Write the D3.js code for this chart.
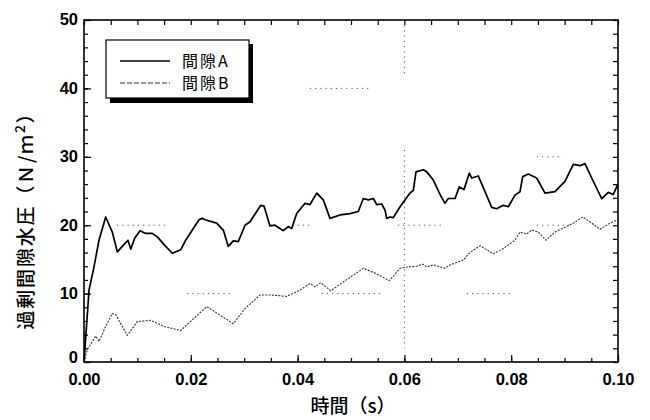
<!DOCTYPE html>
<html><head><meta charset="utf-8">
<script src="https://cdn.jsdelivr.net/npm/d3@7"></script>
<style>
html,body{margin:0;padding:0;background:#fff;}
svg{display:block;}
</style></head>
<body>
<svg id="c" width="650" height="420"></svg>
<script>
// ---- data (time in s, excess pore water pressure in N/m^2) ----
const timeA = [0,0.00094,0.00187,0.00281,0.00406,0.0053,0.00624,0.00717,0.00824,0.00875,0.00949,0.01049,0.01155,0.01279,0.01373,0.0153,0.01654,0.01811,0.01904,0.02028,0.02154,0.02215,0.02266,0.02485,0.02579,0.02609,0.02702,0.02796,0.0289,0.03015,0.03109,0.03234,0.03309,0.03371,0.03483,0.03577,0.03732,0.03826,0.03889,0.03983,0.04139,0.04232,0.04358,0.04481,0.04607,0.04794,0.04981,0.05137,0.0523,0.05324,0.05418,0.05481,0.05575,0.05637,0.05669,0.0573,0.05792,0.05918,0.06011,0.06105,0.06167,0.06217,0.06354,0.06418,0.06541,0.06667,0.0676,0.06822,0.06948,0.07028,0.07116,0.07215,0.0726,0.07384,0.07509,0.07635,0.07728,0.07852,0.07946,0.08071,0.08165,0.08215,0.0832,0.08477,0.08633,0.0882,0.09007,0.09163,0.09288,0.09382,0.09507,0.09695,0.09818,0.09912,0.09976,0.1];
const valueA = [0,10.5,13.9,17.8,21.2,19.0,16.1,16.9,17.8,16.5,18.1,19.2,18.8,18.8,18.3,16.9,15.9,16.4,17.8,19.3,20.8,21.0,20.8,20.3,19.5,19.3,16.9,17.7,17.6,20.0,20.5,22.0,22.9,22.8,19.9,20.0,19.2,19.8,19.5,21.7,23.2,23.0,24.7,23.7,21.0,21.5,21.7,22.0,23.9,23.7,23.9,23.0,23.1,22.2,21.0,21.2,21.1,22.7,23.7,24.7,25.1,27.8,28.1,27.8,26.6,24.5,23.2,23.9,23.9,25.6,25.2,27.6,26.9,27.2,24.9,22.6,22.4,22.9,22.7,24.4,24.9,27.1,27.5,26.9,24.7,24.9,26.4,28.9,28.7,29.0,26.9,23.9,24.8,24.5,25.6,26.0];
const timeB = [0,0.00062,0.00219,0.00281,0.00406,0.0053,0.00594,0.00811,0.00998,0.01249,0.01498,0.01811,0.02298,0.02796,0.03015,0.03296,0.03483,0.03796,0.04045,0.04232,0.04326,0.04433,0.0462,0.04856,0.0523,0.05449,0.05717,0.05918,0.06073,0.0623,0.06343,0.06418,0.06541,0.0676,0.06854,0.07103,0.07228,0.07416,0.07665,0.07852,0.08071,0.08165,0.0829,0.08384,0.08507,0.08652,0.0882,0.09163,0.09339,0.09476,0.09663,0.0985,0.1];
const valueB = [0,1.8,3.8,3.0,5.2,7.1,6.9,3.9,5.9,6.1,5.2,4.6,8.1,5.6,7.8,9.8,9.8,9.6,10.5,11.5,11.0,11.6,10.4,11.7,13.7,13.0,11.9,13.7,13.9,14.0,14.3,13.9,14.2,13.7,14.2,14.9,16.0,17.0,15.8,16.6,17.8,19.0,18.7,19.3,19.0,17.8,19.0,20.3,21.2,20.5,19.4,20.3,20.8];
const seriesNames = ["間隙A", "間隙B"];
const xTicks = [0, 0.02, 0.04, 0.06, 0.08, 0.10];
const yTicks = [0, 10, 20, 30, 40, 50];
// faint dotted grid fragments seen in the scan [x0, x1, y0, y1] in data units
const gridBits = [
  [0.06,0.06,50,42],[0.06,0.06,31,2],
  [0.0062,0.0155,20,20],[0.0400,0.0424,20,20],[0.0588,0.0675,20,20],[0.0848,0.0915,20,20],
  [0.0193,0.0273,10,10],[0.0445,0.0555,10,10],[0.0717,0.0797,10,10],
  [0.0423,0.0535,40,40],[0.0848,0.0897,30,30]
];

// ---- layout ----
const svg = d3.select("#c");
const L = 84, R = 618, T = 20, B = 362;
const x = d3.scaleLinear().domain([0, 0.1]).range([L, R]);
const y = d3.scaleLinear().domain([0, 50]).range([B, T]);
const tickFont = "'Liberation Sans', Arial, sans-serif";
const jpFont = "'Noto Sans CJK JP', 'Noto Sans CJK SC', sans-serif";

// grid fragments
svg.append("g").selectAll("line").data(gridBits).join("line")
  .attr("x1", d => x(d[0])).attr("x2", d => x(d[1]))
  .attr("y1", d => y(d[2])).attr("y2", d => y(d[3]))
  .attr("stroke", "#555").attr("stroke-width", 1).attr("stroke-dasharray", "1.2,4");

// series
const lineA = d3.line().x((d, i) => x(timeA[i])).y(d => y(d)).curve(d3.curveLinear);
const lineB = d3.line().x((d, i) => x(timeB[i])).y(d => y(d)).curve(d3.curveLinear);
svg.append("path").attr("d", lineB(valueB)).attr("fill", "none")
  .attr("stroke", "#333").attr("stroke-width", 1.1).attr("stroke-dasharray", "2,1.3");
svg.append("path").attr("d", lineA(valueA)).attr("fill", "none")
  .attr("stroke", "#000").attr("stroke-width", 1.7).attr("stroke-linejoin", "round");

// axes (ticks inside)
function styleAxis(g) {
  g.select(".domain").remove();
  g.selectAll("line").attr("stroke", "#000").attr("stroke-width", 1.2);
  g.selectAll("text").attr("font-family", tickFont).attr("font-weight", "bold")
    .attr("font-size", 16.5).attr("fill", "#000");
}
const minorX = d3.range(0, 0.1001, 0.005);
const minorY = d3.range(0, 50.01, 2);
svg.append("g").attr("transform", `translate(0,${B})`)
  .call(d3.axisBottom(x).tickValues(minorX).tickSize(-4).tickFormat("")).call(styleAxis);
svg.append("g").attr("transform", `translate(0,${B})`)
  .call(d3.axisBottom(x).tickValues(xTicks).tickSize(-7).tickPadding(11).tickFormat(d3.format(".2f"))).call(styleAxis);
svg.append("g").attr("transform", `translate(0,${T})`)
  .call(d3.axisTop(x).tickValues(minorX).tickSize(-5).tickFormat("")).call(styleAxis);
svg.append("g").attr("transform", `translate(${L},0)`)
  .call(d3.axisLeft(y).tickValues(minorY).tickSize(-4).tickFormat("")).call(styleAxis);
const yAx = svg.append("g").attr("transform", `translate(${L},0)`)
  .call(d3.axisLeft(y).tickValues(yTicks).tickSize(-7).tickPadding(6).tickFormat(d3.format("d"))).call(styleAxis);
yAx.selectAll("text").attr("dy", "0.3em");
yAx.selectAll("text").filter(d => d === 0).attr("dy", "0.05em");
svg.append("g").attr("transform", `translate(${R},0)`)
  .call(d3.axisRight(y).tickValues(minorY).tickSize(-5).tickFormat("")).call(styleAxis);

// frame
svg.append("rect").attr("x", L).attr("y", T).attr("width", R - L).attr("height", B - T)
  .attr("fill", "none").attr("stroke", "#000").attr("stroke-width", 1.6);

// axis titles
svg.append("text").attr("x", 353).attr("y", 413).attr("text-anchor", "middle")
  .attr("font-family", jpFont).attr("font-weight", 500).attr("font-size", 19)
  .text("時間（s）");
const yt = svg.append("text").attr("transform", "translate(33,216) rotate(-90)")
  .attr("text-anchor", "middle").attr("font-family", jpFont).attr("font-weight", 500)
  .attr("font-size", 19).attr("letter-spacing", 1.8);
yt.append("tspan").text("過剰間隙水圧（Ｎ/ｍ");
yt.append("tspan").attr("dy", -8).attr("font-size", 14).text("2");
yt.append("tspan").attr("dy", 8).text("）");

// legend
const lg = svg.append("g");
lg.append("rect").attr("x", 110).attr("y", 44).attr("width", 143).attr("height", 59).attr("fill", "#000");
lg.append("rect").attr("x", 106).attr("y", 40).attr("width", 143).attr("height", 58)
  .attr("fill", "#fff").attr("stroke", "#000").attr("stroke-width", 1.2);
const rows = [{name: seriesNames[0], dash: null, w: 1.5, c: "#000"}, {name: seriesNames[1], dash: "5,2", w: 1.1, c: "#333"}];
rows.forEach((r, i) => {
  const yy = 61 + i * 22;
  lg.append("line").attr("x1", 120).attr("x2", 170).attr("y1", yy).attr("y2", yy)
    .attr("stroke", r.c).attr("stroke-width", r.w).attr("stroke-dasharray", r.dash);
  lg.append("text").attr("x", 182).attr("y", yy + 6).attr("font-family", jpFont)
    .attr("font-size", 16).attr("letter-spacing", 2).attr("fill", "#000").text(r.name);
});
</script>
</body></html>
